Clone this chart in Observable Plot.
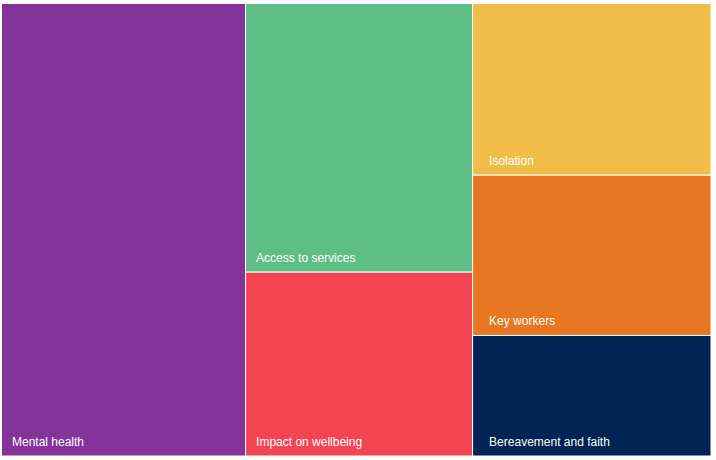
<!DOCTYPE html>
<html>
<head>
<meta charset="utf-8">
<script src="https://cdn.jsdelivr.net/npm/d3@7"></script>
<script src="https://cdn.jsdelivr.net/npm/@observablehq/plot@0.6"></script>
<style>
  html, body { margin: 0; padding: 0; background: #fff; }
</style>
</head>
<body>
<div id="chart"></div>
<script>
const categories = ["Mental health", "Access to services", "Impact on wellbeing", "Isolation", "Key workers", "Bereavement and faith"];
const values = [34.4, 19.0, 13.0, 12.75, 11.9, 8.95];
const columns = [0, 1, 1, 2, 2, 2];
const colors = ["#84339b", "#5fbe85", "#f24453", "#f1bd49", "#e87722", "#002453"];

const W = 709.5, H = 452.5;
const groups = d3.groups(categories.map((name, i) => ({name, value: values[i], col: columns[i]})), d => d.col)
  .map(([col, children]) => ({col, children}));
const root = d3.hierarchy({children: groups}).sum(d => d.value ?? 0);
d3.treemap().size([W, H]).tile(d3.treemapSliceDice).round(false)(root);
const leaves = root.leaves().map(d => ({name: d.data.name, col: d.data.col, x0: d.x0, x1: d.x1, y0: d.y0, y1: d.y1}));

const labelOpts = {x: "x0", y: "y1", text: "name", textAnchor: "start", lineAnchor: "bottom", dy: -10.5, fill: "white", fontSize: 12};

const chart = Plot.plot({
  width: 716,
  height: 460,
  margin: 0,
  style: {fontFamily: "'Liberation Sans', Arial, sans-serif", background: "#fff"},
  x: {domain: [0, W], range: [1.5, 711], axis: null},
  y: {domain: [0, H], range: [3.5, 456], axis: null},
  color: {domain: categories, range: colors},
  marks: [
    Plot.rect(leaves, {x1: "x0", x2: "x1", y1: "y0", y2: "y1", fill: "name", stroke: "white", strokeWidth: 1}),
    Plot.text(leaves.filter(d => d.col < 2), {...labelOpts, dx: 10}),
    Plot.text(leaves.filter(d => d.col === 2), {...labelOpts, dx: 16})
  ]
});
document.getElementById("chart").append(chart);
</script>
</body>
</html>
